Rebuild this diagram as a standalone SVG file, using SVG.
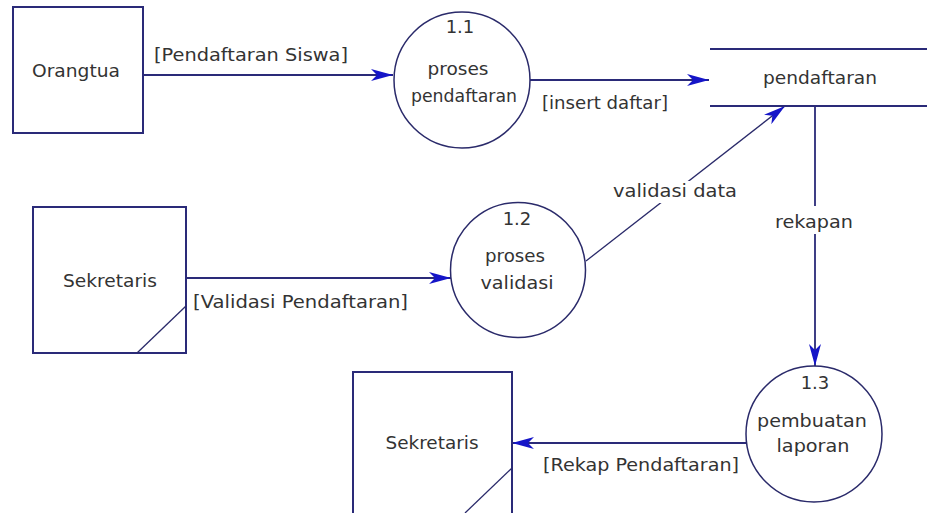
<svg xmlns="http://www.w3.org/2000/svg" width="927" height="513" viewBox="0 0 927 513">
<style>
  .ln { stroke: #2a2a78; stroke-width: 1.8; fill: none; }
  .box { fill: #ffffff; stroke: #2a2a78; stroke-width: 2; }
  .proc { fill: #ffffff; stroke: #2a2a6a; stroke-width: 1.5; }
  .diag { stroke: #2a2a6a; stroke-width: 1.3; fill: none; }
  text { font-family: "DejaVu Sans", Verdana, sans-serif; font-size: 18px; fill: #333333; }
  .c { text-anchor: middle; }
  .bg { fill: #ffffff; stroke: none; }
</style>
<defs>
  <marker id="arr" viewBox="0 0 22 12" refX="22" refY="6" markerWidth="22" markerHeight="12" markerUnits="userSpaceOnUse" orient="auto">
    <path d="M22,6 L0,0 L6,6 L0,12 Z" fill="#1515c8"/>
  </marker>
</defs>
<rect width="927" height="513" fill="#ffffff"/>

<g id="connectors">
  <line class="ln" x1="143" y1="75" x2="393" y2="75" marker-end="url(#arr)"/>
  <text x="154" y="61" textLength="194" lengthAdjust="spacingAndGlyphs">[Pendaftaran Siswa]</text>

  <line class="ln" x1="530" y1="80" x2="709" y2="80" marker-end="url(#arr)"/>
  <text x="542" y="109" textLength="126" lengthAdjust="spacingAndGlyphs">[insert daftar]</text>

  <line class="ln" x1="186" y1="278" x2="451" y2="278" marker-end="url(#arr)"/>
  <text x="193" y="308" textLength="215" lengthAdjust="spacingAndGlyphs">[Validasi Pendaftaran]</text>

  <line class="diag" x1="586" y1="261" x2="785" y2="106" marker-end="url(#arr)"/>
  <rect class="bg" x="612" y="181" width="126" height="22"/>
  <text x="613" y="197" textLength="124" lengthAdjust="spacingAndGlyphs">validasi data</text>

  <line class="ln" x1="815" y1="106" x2="815" y2="366" marker-end="url(#arr)"/>
  <rect class="bg" x="773" y="206" width="82" height="28"/>
  <text x="775" y="228" textLength="78" lengthAdjust="spacingAndGlyphs">rekapan</text>

  <line class="ln" x1="746" y1="443" x2="512" y2="443" marker-end="url(#arr)"/>
  <text x="543" y="471" textLength="196" lengthAdjust="spacingAndGlyphs">[Rekap Pendaftaran]</text>
</g>

<g id="orangtua">
  <rect class="box" x="13" y="7" width="130" height="126"/>
  <text class="c" x="76" y="77" textLength="88" lengthAdjust="spacingAndGlyphs">Orangtua</text>
</g>

<g id="p11">
  <circle class="proc" cx="462" cy="80" r="68"/>
  <text class="c" x="460" y="33">1.1</text>
  <text class="c" x="458" y="75" textLength="61" lengthAdjust="spacingAndGlyphs">proses</text>
  <text class="c" x="464" y="102" textLength="106" lengthAdjust="spacingAndGlyphs">pendaftaran</text>
</g>

<g id="store">
  <line class="ln" x1="710" y1="49" x2="927" y2="49"/>
  <line class="ln" x1="710" y1="106" x2="927" y2="106"/>
  <text class="c" x="820" y="84" textLength="114" lengthAdjust="spacingAndGlyphs">pendaftaran</text>
</g>

<g id="sekretaris1">
  <rect class="box" x="33" y="207" width="153" height="146"/>
  <line class="diag" x1="186" y1="306" x2="137" y2="353"/>
  <text class="c" x="110" y="287" textLength="94" lengthAdjust="spacingAndGlyphs">Sekretaris</text>
</g>

<g id="p12">
  <circle class="proc" cx="518" cy="270" r="67.5"/>
  <text class="c" x="517" y="225">1.2</text>
  <text class="c" x="515" y="262" textLength="60" lengthAdjust="spacingAndGlyphs">proses</text>
  <text class="c" x="517" y="289" textLength="73" lengthAdjust="spacingAndGlyphs">validasi</text>
</g>

<g id="p13">
  <circle class="proc" cx="814" cy="434" r="68"/>
  <text class="c" x="815" y="389">1.3</text>
  <text class="c" x="812" y="427" textLength="110" lengthAdjust="spacingAndGlyphs">pembuatan</text>
  <text class="c" x="813" y="452" textLength="73" lengthAdjust="spacingAndGlyphs">laporan</text>
</g>

<g id="sekretaris2">
  <rect class="box" x="353" y="372" width="159" height="150"/>
  <line class="diag" x1="512" y1="468" x2="465" y2="513"/>
  <text class="c" x="432" y="449" textLength="93" lengthAdjust="spacingAndGlyphs">Sekretaris</text>
</g>
</svg>
